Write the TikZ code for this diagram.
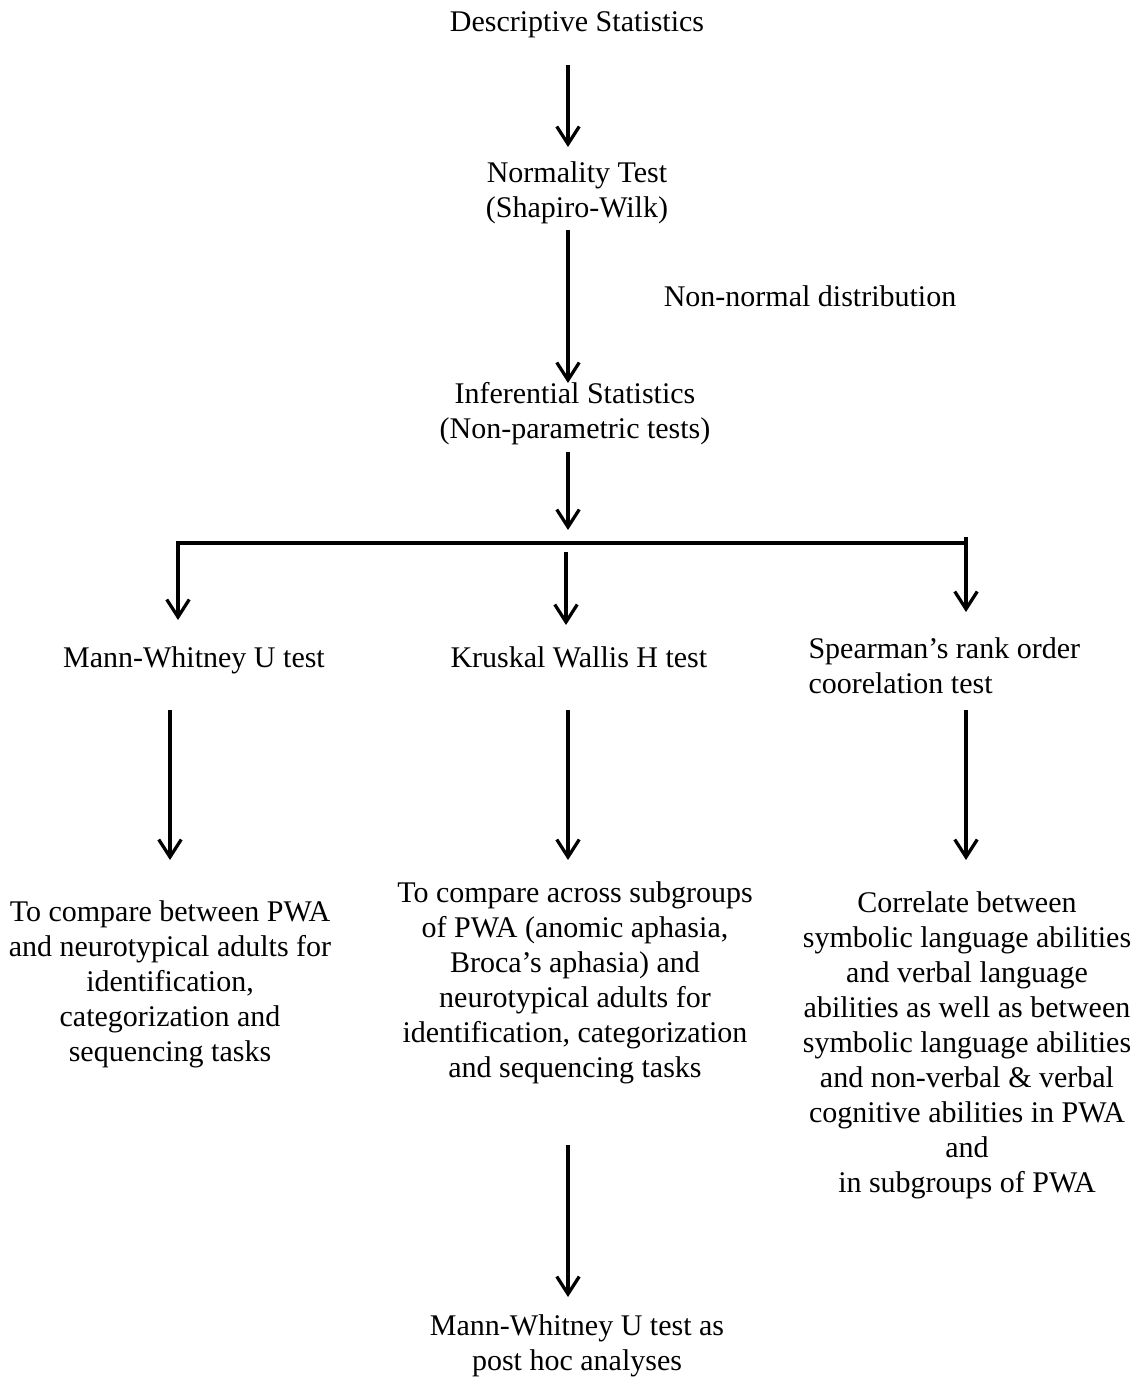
\documentclass[tikz,border=0pt]{standalone}
\usepackage{fontspec}
\setmainfont{Liberation Serif}
\usetikzlibrary{arrows.meta,calc}
\begin{document}
\begin{tikzpicture}[x=0.4pt,y=-0.4pt,
  lbl/.style={inner sep=0pt, align=center, font=\fontsize{12pt}{14pt}\selectfont},
  arr/.style={line width=1.3pt, -{Straight Barb[length=7pt,width=9pt,line width=1.3pt]}},
  rule/.style={line width=1.3pt}]
\useasboundingbox (0,0) rectangle (1143,1377);

% labels (base anchor = baseline of the last line)
\node[lbl, anchor=base] (desc) at (577,32) {Descriptive Statistics};
\node[lbl, anchor=base] (norm) at (577,218) {Normality Test\\(Shapiro-Wilk)};
\node[lbl, anchor=base] (nonnorm) at (810,307) {Non-normal distribution};
\node[lbl, anchor=base] (infer) at (575,439) {Inferential Statistics\\(Non-parametric tests)};
\node[lbl, anchor=base] (mwu) at (194,667) {Mann-Whitney U test};
\node[lbl, anchor=base west] (kw) at (450,667) {Kruskal Wallis H test};
\node[lbl, anchor=base west, align=left] (sp) at (808,693) {Spearman’s rank order\\coorelation test};
\node[lbl, anchor=base] (cmp1) at (170,1061) {To compare between PWA\\and neurotypical adults for\\identification,\\categorization and\\sequencing tasks};
\node[lbl, anchor=base] (cmp2) at (575,1077) {To compare across subgroups\\of PWA (anomic aphasia,\\Broca’s aphasia) and\\neurotypical adults for\\identification, categorization\\and sequencing tasks};
\node[lbl, anchor=base] (corr) at (967,1192) {Correlate between\\symbolic language abilities\\and verbal language\\abilities as well as between\\symbolic language abilities\\and non-verbal \& verbal\\cognitive abilities in PWA\\and\\in subgroups of PWA};
\node[lbl, anchor=base] (post) at (577,1370) {Mann-Whitney U test as\\post hoc analyses};

% branching rule
\coordinate (jl) at (178,543);
\coordinate (jr) at (968,543);
\coordinate (hub) at (568,543);

% main column
\draw[arr] ($(desc.base)+(-9,33)$) -- ($(norm.base)+(-9,-71)$);
\draw[arr] ($(norm.base)+(-9,12)$) -- ($(infer.base)+(-7,-56)$);
\draw[arr] ($(infer.base)+(-7,13)$) -- ($(hub)+(0,-13)$);

% split into three tests
\draw[arr] (jr) -- (jl) -- ($(mwu.base)+(-16,-47)$);
\draw[arr] ($(hub)+(-2,9)$) -- ($(kw.base west)+(116,-42)$);
\draw[arr] ($(jr)+(-2,-6)$) -- ($(sp.base west)+(158,-81)$);

% tests to purposes
\draw[arr] ($(mwu.base)+(-24,43)$) -- ($(cmp1.base)+(0,-201)$);
\draw[arr] ($(kw.base west)+(118,43)$) -- ($(cmp2.base)+(-7,-217)$);
\draw[arr] ($(sp.base west)+(158,17)$) -- ($(corr.base)+(-1,-332)$);

% post hoc
\draw[arr] ($(cmp2.base)+(-7,68)$) -- ($(post.base)+(-9,-73)$);
\end{tikzpicture}
\end{document}
